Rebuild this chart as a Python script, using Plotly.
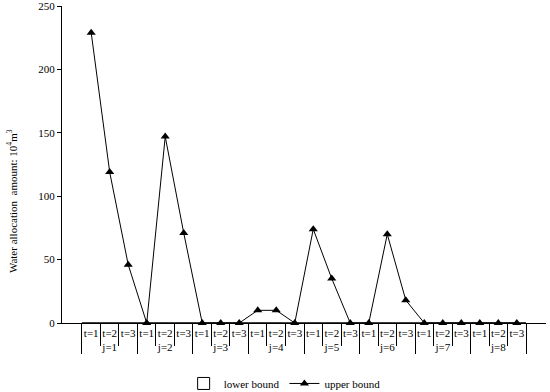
import plotly.graph_objects as go

groups = ["j=1", "j=2", "j=3", "j=4", "j=5", "j=6", "j=7", "j=8"]
periods = ["t=1", "t=2", "t=3"]
upper_bound = [229, 119, 46, 0, 147, 71, 0, 0, 0, 10, 10, 0,
               74, 35, 0, 0, 70, 18, 0, 0, 0, 0, 0, 0]
lower_bound = [0] * 24

x_outer = [g for g in groups for _ in periods]
x_inner = [p for _ in groups for p in periods]

FONT = "Liberation Serif"

fig = go.Figure()
fig.add_trace(go.Bar(
    x=[x_outer, x_inner], y=lower_bound, name="lower bound", width=1,
    marker=dict(color="white", line=dict(color="black", width=1)),
))
fig.add_trace(go.Scatter(
    x=[x_outer, x_inner], y=upper_bound, name="upper bound",
    mode="lines+markers",
    line=dict(color="black", width=1),
    marker=dict(symbol="triangle-up", size=8, color="black"),
    cliponaxis=False,
))

fig.add_annotation(
    text="Water allocation  amount: 10<sup>4</sup>m<sup>3</sup>",
    textangle=-90, xref="paper", yref="paper", x=-0.103, y=0.385,
    xanchor="center", yanchor="middle", showarrow=False,
    font=dict(family=FONT, size=11, color="black"),
)

fig.update_layout(
    width=550, height=392,
    margin=dict(l=62, r=4, t=6, b=69, autoexpand=False),
    plot_bgcolor="white", paper_bgcolor="white",
    font=dict(family=FONT, size=11, color="black"),
    showlegend=True,
    legend=dict(orientation="h", x=0.46, xanchor="center", y=-0.145, yanchor="top",
                font=dict(family=FONT, size=11)),
    xaxis=dict(
        type="multicategory", showline=True, linecolor="black", linewidth=1,
        showgrid=False, ticks="outside", tickson="boundaries", ticklen=22,
        tickcolor="black", showdividers=True, dividercolor="black", dividerwidth=1,
        zeroline=False, tickangle=0, automargin=False,
    ),
    yaxis=dict(
        range=[0, 250], tickvals=[0, 50, 100, 150, 200, 250],
        showline=True, linecolor="black", linewidth=1, showgrid=False,
        ticks="outside", ticklen=4, tickcolor="black", zeroline=False,
        automargin=False, ticklabeloverflow="allow",
    ),
)

fig.write_html("out.html", config={"displayModeBar": False},
               post_script="document.body.style.margin='0';")
